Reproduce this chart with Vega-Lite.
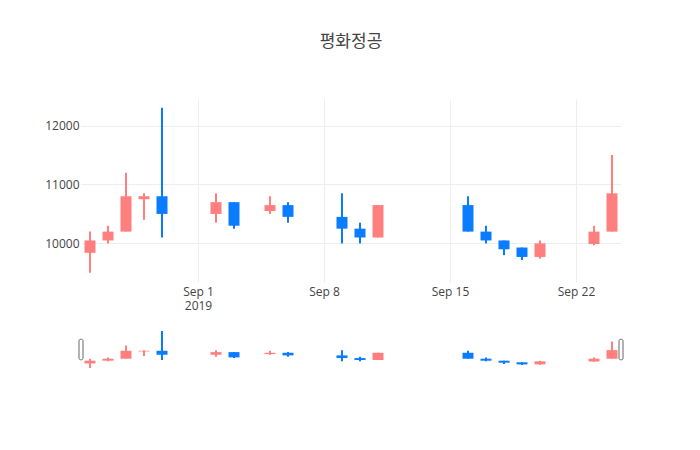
{
  "$schema": "https://vega.github.io/schema/vega-lite/v6.json",
  "background": "white",
  "padding": {"left": 44, "top": 33, "right": 75, "bottom": 79},
  "title": {
    "text": "평화정공",
    "font": "Noto Sans CJK KR",
    "fontSize": 17,
    "fontWeight": "normal",
    "color": "#444",
    "anchor": "middle",
    "frame": "group",
    "offset": 48
  },
  "bounds": "flush",
  "spacing": 47,
  "config": {
    "view": {"stroke": null},
    "axis": {
      "domain": false,
      "ticks": false,
      "tickSize": 0,
      "gridColor": "#eeeeee",
      "gridWidth": 1,
      "labelFont": "Open Sans",
      "labelFontSize": 12,
      "labelColor": "#444",
      "title": null
    }
  },
  "datasets": {
    "ohlc": [
      {"date": "2019-08-26", "open": 9840, "high": 10200, "low": 9500, "close": 10050},
      {"date": "2019-08-27", "open": 10050, "high": 10300, "low": 10000, "close": 10200},
      {"date": "2019-08-28", "open": 10200, "high": 11200, "low": 10200, "close": 10800},
      {"date": "2019-08-29", "open": 10750, "high": 10850, "low": 10400, "close": 10800},
      {"date": "2019-08-30", "open": 10800, "high": 12300, "low": 10100, "close": 10500},
      {"date": "2019-09-02", "open": 10500, "high": 10850, "low": 10350, "close": 10700},
      {"date": "2019-09-03", "open": 10700, "high": 10700, "low": 10250, "close": 10300},
      {"date": "2019-09-05", "open": 10550, "high": 10800, "low": 10500, "close": 10650},
      {"date": "2019-09-06", "open": 10650, "high": 10700, "low": 10350, "close": 10450},
      {"date": "2019-09-09", "open": 10450, "high": 10850, "low": 10000, "close": 10250},
      {"date": "2019-09-10", "open": 10250, "high": 10350, "low": 10000, "close": 10100},
      {"date": "2019-09-11", "open": 10100, "high": 10650, "low": 10100, "close": 10650},
      {"date": "2019-09-16", "open": 10650, "high": 10800, "low": 10200, "close": 10200},
      {"date": "2019-09-17", "open": 10200, "high": 10300, "low": 10000, "close": 10050},
      {"date": "2019-09-18", "open": 10050, "high": 10050, "low": 9800, "close": 9900},
      {"date": "2019-09-19", "open": 9930, "high": 9930, "low": 9720, "close": 9770},
      {"date": "2019-09-20", "open": 9770, "high": 10050, "low": 9740, "close": 10000},
      {"date": "2019-09-23", "open": 9990, "high": 10300, "low": 9970, "close": 10200},
      {"date": "2019-09-24", "open": 10200, "high": 11500, "low": 10200, "close": 10850}
    ],
    "handles": [
      {"date": "2019-08-25T12:00:00Z", "lo": 10120, "hi": 11670},
      {"date": "2019-09-24T12:00:00Z", "lo": 10120, "hi": 11670}
    ]
  },
  "vconcat": [
    {
      "width": 540,
      "height": 183,
      "data": {"name": "ohlc"},
      "encoding": {
        "x": {
          "field": "date",
          "type": "temporal",
          "scale": {
            "type": "utc",
            "padding": 0,
            "domain": [
              {"year": 2019, "month": 8, "date": 25, "hours": 12, "utc": true},
              {"year": 2019, "month": 9, "date": 24, "hours": 12, "utc": true}
            ]
          },
          "axis": {
            "grid": true,
            "values": [
              {"year": 2019, "month": 9, "date": 1, "utc": true},
              {"year": 2019, "month": 9, "date": 8, "utc": true},
              {"year": 2019, "month": 9, "date": 15, "utc": true},
              {"year": 2019, "month": 9, "date": 22, "utc": true}
            ],
            "labelExpr": "utcdate(datum.value) == 1 ? ['Sep 1', '2019'] : utcFormat(datum.value, '%b %-d')",
            "labelPadding": 4,
            "labelLineHeight": 14
          }
        },
        "color": {
          "condition": {"test": "datum.close >= datum.open", "value": "#ff7f7f"},
          "value": "#0a7cff"
        }
      },
      "layer": [
        {
          "mark": {"type": "rule", "strokeWidth": 2},
          "encoding": {
            "y": {
              "field": "low",
              "type": "quantitative",
              "scale": {"domain": [9345, 12450], "zero": false, "nice": false},
              "axis": {"grid": true, "values": [10000, 11000, 12000], "format": "d", "labelPadding": 2}
            },
            "y2": {"field": "high"}
          }
        },
        {
          "mark": {"type": "bar", "size": 11},
          "encoding": {
            "y": {"field": "open", "type": "quantitative"},
            "y2": {"field": "close"}
          }
        }
      ]
    },
    {
      "width": 540,
      "height": 41,
      "layer": [
        {
          "data": {"name": "ohlc"},
          "mark": {"type": "rule", "strokeWidth": 2},
          "encoding": {
            "x": {
              "field": "date",
              "type": "temporal",
              "scale": {
                "type": "utc",
                "padding": 0,
                "domain": [
                  {"year": 2019, "month": 8, "date": 25, "hours": 12, "utc": true},
                  {"year": 2019, "month": 9, "date": 24, "hours": 12, "utc": true}
                ]
              },
              "axis": null
            },
            "y": {
              "field": "low",
              "type": "quantitative",
              "scale": {"domain": [9345, 12450], "zero": false, "nice": false},
              "axis": null
            },
            "y2": {"field": "high"},
            "color": {
              "condition": {"test": "datum.close >= datum.open", "value": "#ff7f7f"},
              "value": "#0a7cff"
            }
          }
        },
        {
          "data": {"name": "ohlc"},
          "mark": {"type": "bar", "size": 11},
          "encoding": {
            "x": {"field": "date", "type": "temporal"},
            "y": {"field": "open", "type": "quantitative"},
            "y2": {"field": "close"},
            "color": {
              "condition": {"test": "datum.close >= datum.open", "value": "#ff7f7f"},
              "value": "#0a7cff"
            }
          }
        },
        {
          "data": {"name": "handles"},
          "mark": {"type": "bar", "size": 4, "fill": "white", "stroke": "#666", "strokeWidth": 1, "cornerRadius": 1.5},
          "encoding": {
            "x": {"field": "date", "type": "temporal"},
            "y": {"field": "lo", "type": "quantitative"},
            "y2": {"field": "hi"}
          }
        }
      ]
    }
  ],
  "resolve": {"scale": {"x": "independent", "y": "independent"}}
}
